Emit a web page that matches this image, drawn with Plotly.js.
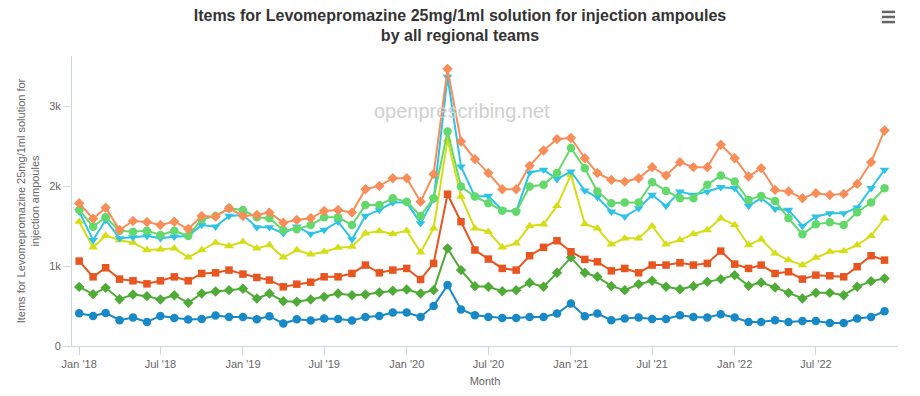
<!DOCTYPE html>
<html>
<head>
<meta charset="utf-8">
<script src="https://cdn.plot.ly/plotly-3.0.1.min.js"></script>
<style>html,body{margin:0;padding:0;background:#fff;}#chart{width:920px;height:396px;}</style>
</head>
<body>
<div id="chart"></div>
<script>
const months = [
 '2018-01-01','2018-02-01','2018-03-01','2018-04-01','2018-05-01','2018-06-01','2018-07-01','2018-08-01','2018-09-01','2018-10-01','2018-11-01','2018-12-01',
 '2019-01-01','2019-02-01','2019-03-01','2019-04-01','2019-05-01','2019-06-01','2019-07-01','2019-08-01','2019-09-01','2019-10-01','2019-11-01','2019-12-01',
 '2020-01-01','2020-02-01','2020-03-01','2020-04-01','2020-05-01','2020-06-01','2020-07-01','2020-08-01','2020-09-01','2020-10-01','2020-11-01','2020-12-01',
 '2021-01-01','2021-02-01','2021-03-01','2021-04-01','2021-05-01','2021-06-01','2021-07-01','2021-08-01','2021-09-01','2021-10-01','2021-11-01','2021-12-01',
 '2022-01-01','2022-02-01','2022-03-01','2022-04-01','2022-05-01','2022-06-01','2022-07-01','2022-08-01','2022-09-01','2022-10-01','2022-11-01','2022-12-01'
];

const teamNames = ['Region 1','Region 2','Region 3','Region 4','Region 5','Region 6','Region 7'];

const seriesBlue = [
 410,376,414,323,356,301,376,351,331,339,381,364,
 364,335,373,281,335,318,343,339,318,364,376,419,
 419,364,502,762,457,385,364,351,351,364,364,406,
 532,373,406,323,343,356,339,339,385,364,356,398,
 356,301,301,323,301,314,314,289,289,343,364,435
];
const seriesGreen = [
 740,649,728,586,645,624,582,636,540,657,682,699,
 716,594,657,561,553,582,615,657,636,645,670,691,
 707,657,699,1222,950,749,741,686,699,791,741,916,
 1109,916,866,749,699,774,816,741,711,749,803,837,
 887,753,795,733,665,595,665,665,636,741,812,845
];
const seriesRed = [
 1063,866,979,837,816,778,816,866,816,908,916,950,
 900,858,825,741,774,799,866,866,908,1013,916,950,
 971,833,1034,1900,1556,1201,1088,971,950,1130,1235,1318,
 1180,1084,1054,941,971,916,1013,1013,1042,1013,1034,1188,
 1025,971,1013,908,929,837,887,879,866,992,1130,1075
];
const seriesYellow = [
 1556,1235,1381,1326,1293,1201,1210,1222,1109,1201,1293,1251,
 1305,1222,1264,1109,1201,1147,1180,1230,1243,1410,1439,1402,
 1444,1172,1473,2582,1870,1473,1431,1235,1285,1502,1523,1753,
 2142,1527,1473,1272,1348,1348,1502,1272,1326,1402,1452,1599,
 1515,1264,1335,1159,1075,1013,1105,1180,1188,1264,1377,1599
];
const seriesCyan = [
 1682,1326,1578,1348,1360,1377,1348,1368,1377,1515,1494,1628,
 1640,1486,1486,1410,1494,1402,1452,1556,1335,1628,1703,1795,
 1795,1536,1837,3368,2246,1870,1878,1703,1682,2171,2205,2088,
 2184,1945,1862,1682,1619,1724,1891,1753,1933,1891,1933,1988,
 1975,1753,1850,1716,1703,1502,1619,1661,1661,1732,1975,2205
];
const seriesLightGreen = [
 1703,1494,1611,1443,1431,1443,1389,1443,1377,1586,1628,1724,
 1703,1611,1599,1452,1461,1515,1611,1611,1515,1766,1766,1850,
 1807,1628,1850,2686,1996,1870,1787,1694,1682,1996,2017,2164,
 2477,2226,1933,1787,1795,1795,2050,1941,1850,1850,2017,2134,
 2058,1829,1879,1816,1599,1398,1523,1549,1515,1674,1795,1975
];
const seriesOrange = [
 1787,1594,1732,1452,1565,1552,1515,1556,1465,1628,1619,1724,
 1628,1640,1670,1544,1578,1599,1690,1703,1670,1963,2004,2100,
 2100,1807,2151,3469,2560,2339,2164,1963,1963,2255,2447,2590,
 2603,2351,2164,2079,2058,2100,2239,2134,2301,2239,2239,2519,
 2351,2121,2226,1954,1933,1850,1913,1891,1904,2029,2301,2698
];

const allSeries = [seriesBlue, seriesGreen, seriesRed, seriesYellow, seriesCyan, seriesLightGreen, seriesOrange];
const colors = ['#1689c6','#4eab36','#e8551f','#d5de15','#2ec3e6','#63d96b','#f98d58'];
const symbols = ['circle','diamond','square','triangle-up','triangle-down','circle','diamond'];
const sizes = [8.5,8,7.5,8.5,8.5,8.5,8];

const traces = allSeries.map((ys, k) => ({
  type: 'scatter',
  mode: 'lines+markers',
  name: teamNames[k],
  x: months,
  y: ys,
  line: {color: colors[k], width: 2},
  marker: {color: colors[k], symbol: symbols[k], size: sizes[k], line: {width: 0}},
  hovertemplate: '%{x|%b %Y}: %{y}<extra>' + teamNames[k] + '</extra>'
}));

const axisFont = {family: 'Liberation Sans, Arial, sans-serif', size: 11, color: '#666666'};

const layout = {
  width: 920, height: 396,
  margin: {l: 72, r: 22, t: 56, b: 50, pad: 0},
  paper_bgcolor: '#ffffff', plot_bgcolor: '#ffffff',
  showlegend: false,
  font: {family: 'Liberation Sans, Arial, sans-serif', color: '#333333'},
  title: {
    text: '<b>Items for Levomepromazine 25mg/1ml solution for injection ampoules<br>by all regional teams</b>',
    font: {family: 'Liberation Sans, Arial, sans-serif', size: 16, color: '#333333'},
    x: 0.5, xref: 'container', xanchor: 'center',
    y: 0.948, yref: 'container', yanchor: 'top'
  },
  xaxis: {
    type: 'date',
    range: ['2017-12-16', '2022-12-31'],
    tick0: '2018-01-01', dtick: 'M6',
    tickformat: "%b '%y",
    ticks: 'outside', ticklen: 8, tickcolor: '#ccd6eb', tickwidth: 1,
    showline: true, linecolor: '#ccd6eb', linewidth: 1,
    showgrid: false, zeroline: false,
    tickfont: axisFont,
    title: {text: 'Month', font: axisFont, standoff: 8}
  },
  yaxis: {
    range: [0, 3630],
    tickvals: [0, 1000, 2000, 3000],
    ticktext: ['0', '1k', '2k', '3k'],
    ticks: 'outside', ticklen: 8, tickcolor: '#ccd6eb', tickwidth: 1,
    showline: true, linecolor: '#ccd6eb', linewidth: 1,
    showgrid: false, zeroline: false,
    tickfont: axisFont,
    title: {text: 'Items for Levomepromazine 25mg/1ml solution for<br>injection ampoules', font: axisFont, standoff: 7}
  },
  annotations: [{
    text: 'openprescribing.net', xref: 'paper', yref: 'paper',
    x: 0.472, y: 0.81, xanchor: 'center', yanchor: 'middle', showarrow: false,
    font: {family: 'Liberation Sans, Arial, sans-serif', size: 20, color: '#d0d0d0'}
  }],
  shapes: [
    {type: 'line', xref: 'paper', yref: 'paper', x0: 0.9806, x1: 0.9964, y0: 1.152, y1: 1.152, line: {color: '#666666', width: 2.5}},
    {type: 'line', xref: 'paper', yref: 'paper', x0: 0.9806, x1: 0.9964, y0: 1.1346, y1: 1.1346, line: {color: '#666666', width: 2.5}},
    {type: 'line', xref: 'paper', yref: 'paper', x0: 0.9806, x1: 0.9964, y0: 1.117, y1: 1.117, line: {color: '#666666', width: 2.5}}
  ]
};

Plotly.newPlot('chart', traces, layout, {displayModeBar: false, responsive: false});
</script>
</body>
</html>
